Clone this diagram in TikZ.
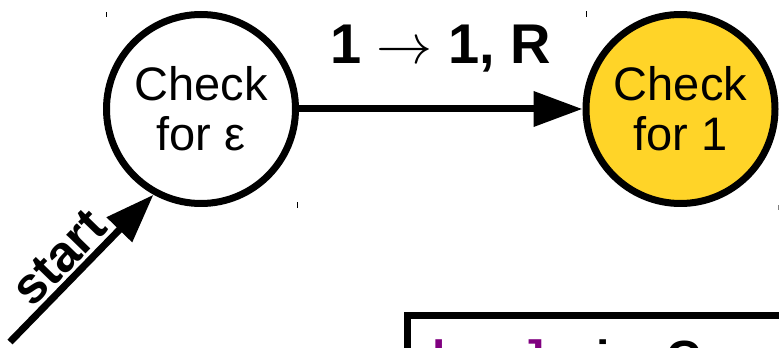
\documentclass[tikz,border=0pt]{standalone}
\usepackage{fontspec}
\usepackage{graphicx}
\setmainfont{Liberation Sans}
\usetikzlibrary{arrows.meta}
\definecolor{stateyellow}{HTML}{FFD428}
\definecolor{tmpurple}{HTML}{800080}
\definecolor{tickgray}{HTML}{808080}
\newcommand{\tapearrow}{\resizebox{56pt}{!}{$\rightarrow$}}
\begin{document}
\begin{tikzpicture}[x=1pt,y=1pt,
  state/.style={circle, draw=black, line width=7pt, minimum size=189pt,
    inner sep=0pt, align=center, font=\fontsize{47}{50}\selectfont},
  trans/.style={line width=7pt, -{Triangle[length=49pt,width=34pt]}},
  translabel/.style={font=\bfseries\fontsize{56}{56}\selectfont, inner sep=0pt},
  startlabel/.style={font=\bfseries\fontsize{51}{51}\selectfont, inner sep=3pt},
  tick/.style={line width=1pt},
  codebox/.style={line width=7pt},
  codetext/.style={font=\bfseries\fontsize{48}{48}\selectfont, inner sep=0pt}]
\useasboundingbox (0,0) rectangle (779,348);
\clip (0,0) rectangle (779,348);

% states
\node[state] (c1) at (201,239) {Check\\for ε};
\node[state, fill=stateyellow] (c2) at (680.5,239) {Check\\for 1};

% transition between the states
\draw[trans] (c1) -- (c2);
\path (c1) -- (c2) node[midway, anchor=base, yshift=45pt, translabel]
  {1 \tapearrow{} 1, R};

% start arrow
\coordinate (s0) at (10,6);
\draw[trans] (s0) -- node[pos=0.46, sloped, above, startlabel] {start} (c1.241);

% small corner marks of the text frames
\draw[tick] (106,331) -- (106,336);
\draw[tick] (297,140) -- (297,146);
\draw[tick] (586,331) -- (586,337);
\draw[tick, tickgray] (778,138) -- (778,143);

% code box at the bottom
\draw[codebox] (407.5,-200) -- (407.5,32.5) -- (900,32.5);
\node[codetext, anchor=base west] (code) at (432,-27)
  {{\color{tmpurple}l\hspace*{82.7pt}]}\hspace*{52.6pt}is\hspace*{30pt}C};
\end{tikzpicture}
\end{document}
